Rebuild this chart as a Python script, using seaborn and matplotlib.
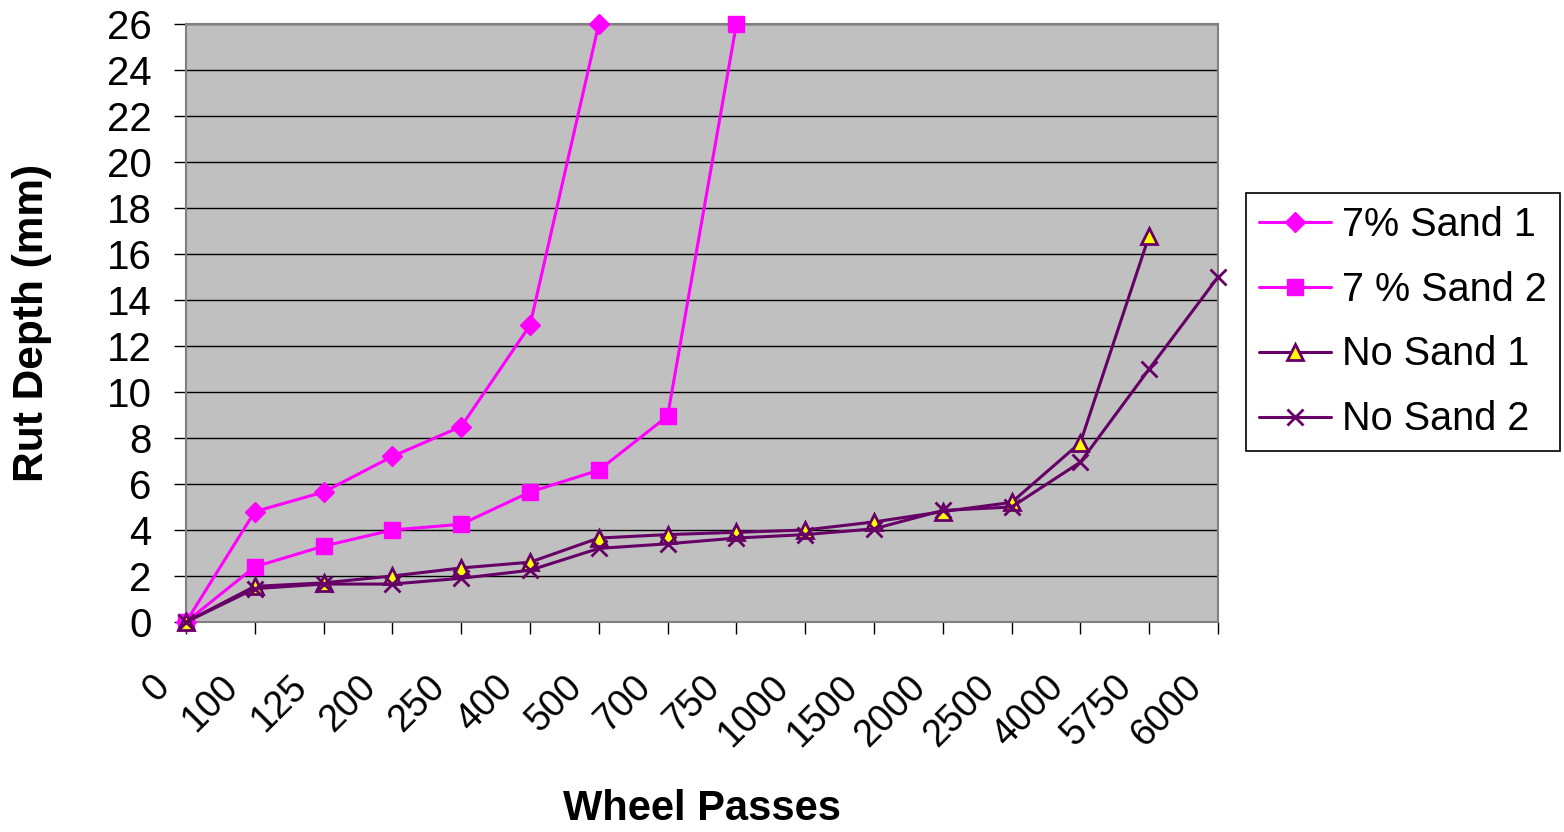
import matplotlib
matplotlib.use("Agg")
import matplotlib.pyplot as plt
import matplotlib.transforms as mtransforms
import seaborn as sns
import pandas as pd

passes = ["0", "100", "125", "200", "250", "400", "500", "700", "750",
          "1000", "1500", "2000", "2500", "4000", "5750", "6000"]

sand7_1 = [0, 4.8, 5.65, 7.2, 8.5, 12.9, 26]
sand7_2 = [0, 2.4, 3.3, 4.0, 4.25, 5.65, 6.6, 8.95, 26]
nosand_1 = [0, 1.55, 1.7, 2.0, 2.35, 2.6, 3.65, 3.8, 3.9, 4.0, 4.35, 4.8, 5.2, 7.8, 16.8]
nosand_2 = [0, 1.45, 1.65, 1.65, 1.9, 2.25, 3.2, 3.4, 3.65, 3.8, 4.05, 4.85, 5.0, 6.95, 11.0, 15.0]

series = {
    "7% Sand 1": sand7_1,
    "7 % Sand 2": sand7_2,
    "No Sand 1": nosand_1,
    "No Sand 2": nosand_2,
}

styles = {
    "7% Sand 1": dict(color="#FF00FF", marker="D", markersize=10, mfc="#FF00FF", mec="#FF00FF", mew=1),
    "7 % Sand 2": dict(color="#FF00FF", marker="s", markersize=11, mfc="#FF00FF", mec="#FF00FF", mew=1),
    "No Sand 1": dict(color="#660066", marker="^", markersize=12, mfc="#FFFF00", mec="#660066", mew=2),
    "No Sand 2": dict(color="#660066", marker="x", markersize=12, mfc="#660066", mec="#660066", mew=2),
}

rows = []
for name, vals in series.items():
    for i, v in enumerate(vals):
        rows.append({"series": name, "pos": i, "passes": passes[i], "rut": v})
df = pd.DataFrame(rows)

sns.set_style("white", {"text.color": "black", "axes.labelcolor": "black",
                        "xtick.color": "black", "ytick.color": "black"})
plt.rcParams["font.family"] = ["Liberation Sans", "DejaVu Sans"]

fig = plt.figure(figsize=(15.64, 8.32), dpi=100)
ax = fig.add_axes([186 / 1564, 1 - 622 / 832, (1218 - 186) / 1564, (622 - 24) / 832])
ax.set_facecolor("#C0C0C0")

for name in series:
    st = styles[name]
    sub = df[df["series"] == name]
    sns.lineplot(data=sub, x="pos", y="rut", ax=ax, color=st["color"], linewidth=2.2,
                 marker=st["marker"], markersize=st["markersize"],
                 markerfacecolor=st["mfc"], markeredgecolor=st["mec"],
                 markeredgewidth=st["mew"], label=name, clip_on=False,
                 zorder=3, estimator=None, sort=False)

ax.set_xlim(0, len(passes) - 1)
ax.set_ylim(0, 26)
ax.set_yticks(range(0, 27, 2))
ax.set_xticks(range(len(passes)))
ax.set_xticklabels(passes, rotation=45, ha="right", va="top", rotation_mode="anchor")
ax.tick_params(axis="both", direction="out", length=8.6, width=1, color="black",
               labelcolor="black", bottom=True, left=True)
ax.tick_params(axis="y", labelsize=29, pad=16)
ax.tick_params(axis="x", labelsize=27, pad=25)

# shift the slanted category labels to the left of their ticks
shift = mtransforms.ScaledTranslation(-35 / 100, 0, fig.dpi_scale_trans)
for lbl in ax.get_xticklabels():
    lbl.set_transform(lbl.get_transform() + shift)

ax.yaxis.grid(True, color="black", linewidth=1)
ax.xaxis.grid(False)
ax.set_axisbelow(True)
for side, sp in ax.spines.items():
    sp.set_visible(True)
    sp.set_color("#808080")
    sp.set_linewidth(1.5)

ax.set_xlabel("Wheel Passes", fontsize=30, fontweight="bold", va="top", color="black")
ax.set_ylabel("Rut Depth (mm)", fontsize=30.5, fontweight="bold", color="black")
ax.xaxis.set_label_coords(0.5, (622 - 789) / 598)
ax.yaxis.set_label_coords((52 - 186) / 1032, 0.5)

leg = ax.legend(loc="center left", bbox_to_anchor=(1246 / 1564, 1 - 322 / 832),
                bbox_transform=fig.transFigure, fontsize=28.5, frameon=True,
                fancybox=False, edgecolor="black", framealpha=1,
                handlelength=1.82, handletextpad=0.28, labelspacing=0.68,
                borderpad=0.33, borderaxespad=0)
leg.get_frame().set_linewidth(1.2)
for txt in leg.get_texts():
    txt.set_color("black")

fig.savefig("out.png", dpi=100, facecolor="white")
